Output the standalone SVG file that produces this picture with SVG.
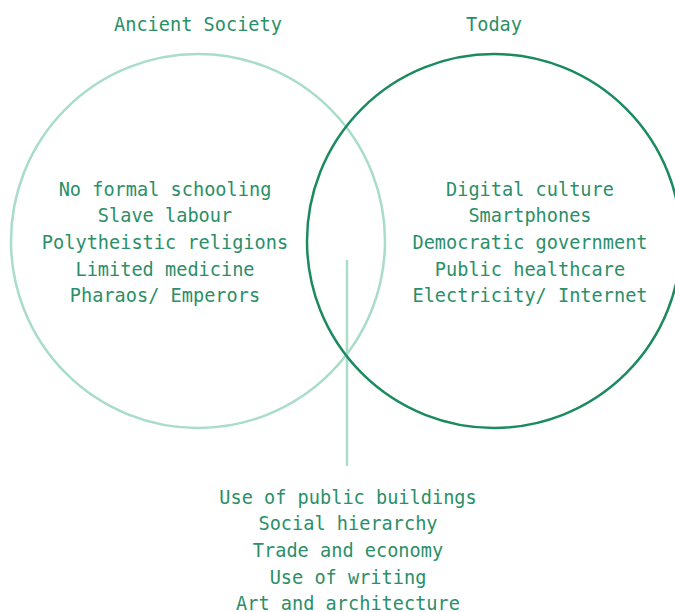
<svg xmlns="http://www.w3.org/2000/svg" width="675" height="612" viewBox="0 0 675 612">
<style>
text{font-family:"DejaVu Sans Mono","Liberation Mono",monospace;font-size:18.6px;fill:#2a8f68;text-anchor:middle;dominant-baseline:central}
.light{fill:none;stroke:#a9dcc9;stroke-width:2.5}
.dark{fill:none;stroke:#1b8a5e;stroke-width:2.5}
</style>
<rect width="675" height="612" fill="#ffffff"/>
<g id="connectors">
<line x1="347" y1="260" x2="347" y2="466" stroke="#a9dcc9" stroke-width="2.5"/>
</g>
<g id="ancient">
<circle class="light" cx="198" cy="241" r="187"/>
<text x="198" y="24">Ancient Society</text>
<text x="165" y="189">No formal schooling</text>
<text x="165" y="215">Slave labour</text>
<text x="165" y="242">Polytheistic religions</text>
<text x="165" y="269">Limited medicine</text>
<text x="165" y="295">Pharaos/ Emperors</text>
</g>
<g id="today">
<circle class="dark" cx="494" cy="241" r="187"/>
<text x="494" y="24">Today</text>
<text x="530" y="189">Digital culture</text>
<text x="530" y="215">Smartphones</text>
<text x="530" y="242">Democratic government</text>
<text x="530" y="269">Public healthcare</text>
<text x="530" y="295">Electricity/ Internet</text>
</g>
<g id="shared">
<text x="348" y="497">Use of public buildings</text>
<text x="348" y="523">Social hierarchy</text>
<text x="348" y="550">Trade and economy</text>
<text x="348" y="577">Use of writing</text>
<text x="348" y="603">Art and architecture</text>
</g>
</svg>
